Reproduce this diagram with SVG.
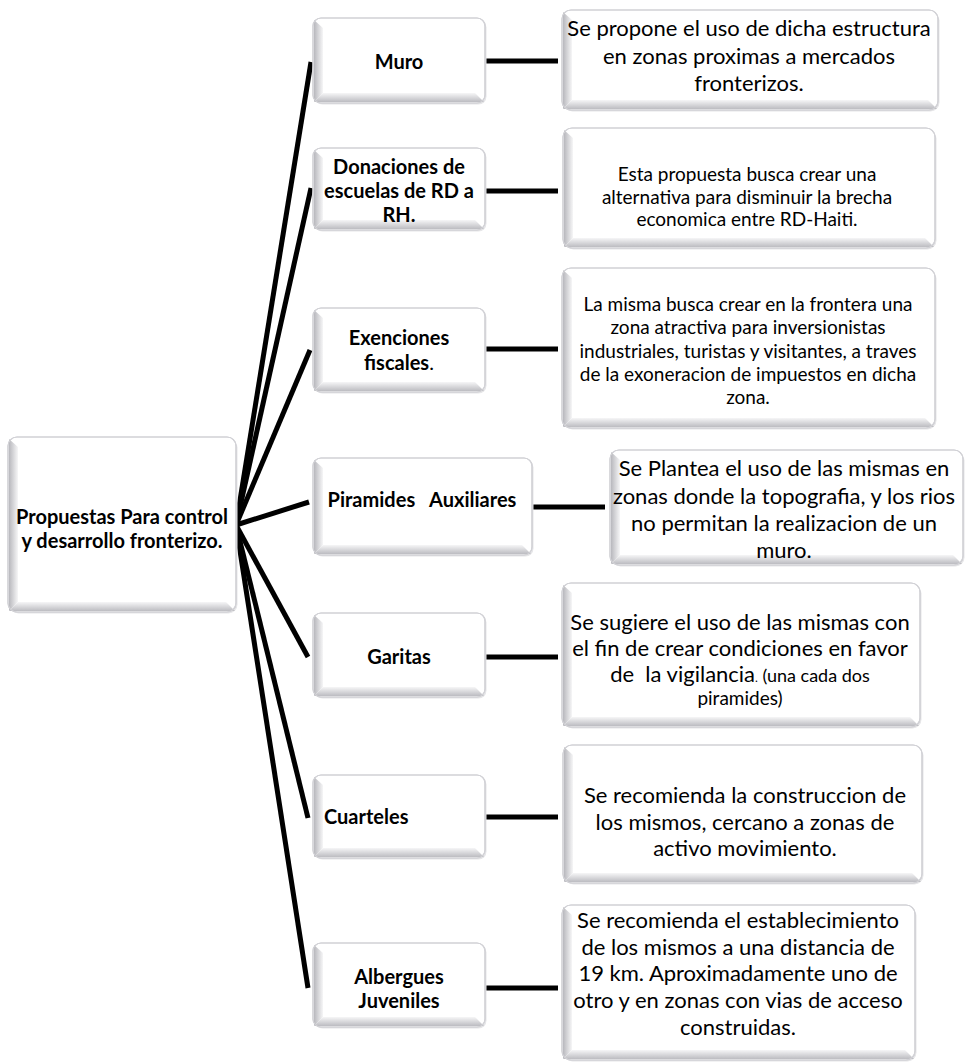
<svg xmlns="http://www.w3.org/2000/svg" width="966" height="1063" viewBox="0 0 966 1063">
<style>
.sh{fill:#e6e6e8}
.bx{fill:#ffffff;stroke:#cfcfd4;stroke-width:1.2}
.bl{fill:url(#gl)}
.bb{fill:url(#gb)}
.ol{fill:none;stroke:#d2d2d6;stroke-width:1.2}
.lbl{font-family:Lato,"Liberation Sans",sans-serif;font-weight:bold;font-size:20px;fill:#000;text-anchor:middle}
.big{font-family:Lato,"Liberation Sans",sans-serif;font-size:22px;fill:#000;text-anchor:middle}
.sm{font-family:Lato,"Liberation Sans",sans-serif;font-size:19px;fill:#000;text-anchor:middle}
.con line{stroke:#000;stroke-width:5;stroke-linecap:butt}
</style>
<defs>
<linearGradient id="gl" x1="0" y1="0" x2="1" y2="0"><stop offset="0" stop-color="#b8b8bd"/><stop offset="1" stop-color="#f6f6f7"/></linearGradient>
<linearGradient id="gb" x1="0" y1="0" x2="0" y2="1"><stop offset="0" stop-color="#f6f6f7"/><stop offset="1" stop-color="#bcbcc1"/></linearGradient>
</defs>
<rect width="966" height="1063" fill="#ffffff"/>
<g class="con" id="connectors">
<line x1="236" y1="525" x2="311" y2="62"/>
<line x1="236" y1="525" x2="311" y2="188"/>
<line x1="236" y1="525" x2="310" y2="350"/>
<line x1="236" y1="525" x2="309" y2="502"/>
<line x1="236" y1="525" x2="308" y2="657"/>
<line x1="236" y1="525" x2="308" y2="818"/>
<line x1="236" y1="525" x2="308" y2="988"/>
<line x1="485" y1="61" x2="558" y2="61"/>
<line x1="485" y1="191" x2="558" y2="191"/>
<line x1="485" y1="349" x2="558" y2="349"/>
<line x1="532" y1="507" x2="605" y2="507"/>
<line x1="485" y1="657" x2="558" y2="657"/>
<line x1="485" y1="817" x2="558" y2="817"/>
<line x1="485" y1="988" x2="558" y2="988"/>
</g>
<g id="root">
<rect class="sh" x="9.5" y="438.5" width="228" height="175" rx="9"/>
<rect class="bx" x="8" y="437" width="228" height="175" rx="9"/>
<path class="bl" d="M9 439 L18 447 L18 602 L9 611 Z"/>
<path class="bb" d="M9 611 L18 602 L226 602 L235 611 Z"/>
<rect class="ol" x="8" y="437" width="228" height="175" rx="9"/>
<text class="lbl" x="122" y="524">Propuestas Para control</text>
<text class="lbl" x="122" y="548">y desarrollo fronterizo.</text>
</g>
<g id="muro">
<rect class="sh" x="314.5" y="19.5" width="172" height="85" rx="8"/>
<rect class="bx" x="313" y="18" width="172" height="85" rx="8"/>
<path class="bl" d="M314 20 L323 28 L323 93 L314 102 Z"/>
<path class="bb" d="M314 102 L323 93 L475 93 L484 102 Z"/>
<rect class="ol" x="313" y="18" width="172" height="85" rx="8"/>
<text class="lbl" x="399" y="69">Muro</text>
</g>
<g id="donaciones">
<rect class="sh" x="314.5" y="149.5" width="172" height="82" rx="8"/>
<rect class="bx" x="313" y="148" width="172" height="82" rx="8"/>
<path class="bl" d="M314 150 L323 158 L323 220 L314 229 Z"/>
<path class="bb" d="M314 229 L323 220 L475 220 L484 229 Z"/>
<rect class="ol" x="313" y="148" width="172" height="82" rx="8"/>
<text class="lbl" x="399" y="174">Donaciones de</text>
<text class="lbl" x="399" y="198">escuelas de RD a</text>
<text class="lbl" x="399" y="222">RH.</text>
</g>
<g id="exenciones">
<rect class="sh" x="314.5" y="309.5" width="172" height="84" rx="8"/>
<rect class="bx" x="313" y="308" width="172" height="84" rx="8"/>
<path class="bl" d="M314 310 L323 318 L323 382 L314 391 Z"/>
<path class="bb" d="M314 391 L323 382 L475 382 L484 391 Z"/>
<rect class="ol" x="313" y="308" width="172" height="84" rx="8"/>
<text class="lbl" x="399" y="345">Exenciones</text>
<text class="lbl" x="399" y="370">fiscales<tspan font-weight="normal">.</tspan></text>
</g>
<g id="piramides">
<rect class="sh" x="314.5" y="459.5" width="219" height="97" rx="8"/>
<rect class="bx" x="313" y="458" width="219" height="97" rx="8"/>
<path class="bl" d="M314 460 L323 468 L323 545 L314 554 Z"/>
<path class="bb" d="M314 554 L323 545 L522 545 L531 554 Z"/>
<rect class="ol" x="313" y="458" width="219" height="97" rx="8"/>
<text class="lbl" x="422" y="507" style="white-space:pre">Piramides   Auxiliares</text>
</g>
<g id="garitas">
<rect class="sh" x="314.5" y="614.5" width="172" height="84" rx="8"/>
<rect class="bx" x="313" y="613" width="172" height="84" rx="8"/>
<path class="bl" d="M314 615 L323 623 L323 687 L314 696 Z"/>
<path class="bb" d="M314 696 L323 687 L475 687 L484 696 Z"/>
<rect class="ol" x="313" y="613" width="172" height="84" rx="8"/>
<text class="lbl" x="399" y="664">Garitas</text>
</g>
<g id="cuarteles">
<rect class="sh" x="314.5" y="776.5" width="172" height="83" rx="8"/>
<rect class="bx" x="313" y="775" width="172" height="83" rx="8"/>
<path class="bl" d="M314 777 L323 785 L323 848 L314 857 Z"/>
<path class="bb" d="M314 857 L323 848 L475 848 L484 857 Z"/>
<rect class="ol" x="313" y="775" width="172" height="83" rx="8"/>
<text class="lbl" x="324" y="824" style="text-anchor:start">Cuarteles</text>
</g>
<g id="albergues">
<rect class="sh" x="314.5" y="944.5" width="172" height="84" rx="8"/>
<rect class="bx" x="313" y="943" width="172" height="84" rx="8"/>
<path class="bl" d="M314 945 L323 953 L323 1017 L314 1026 Z"/>
<path class="bb" d="M314 1026 L323 1017 L475 1017 L484 1026 Z"/>
<rect class="ol" x="313" y="943" width="172" height="84" rx="8"/>
<text class="lbl" x="399" y="984">Albergues</text>
<text class="lbl" x="399" y="1008">Juveniles</text>
</g>
<g id="desc-muro">
<rect class="sh" x="563.5" y="11.5" width="376" height="100" rx="9"/>
<rect class="bx" x="562" y="10" width="376" height="100" rx="9"/>
<path class="bl" d="M563 12 L572 20 L572 100 L563 109 Z"/>
<path class="bb" d="M563 109 L572 100 L928 100 L937 109 Z"/>
<rect class="ol" x="562" y="10" width="376" height="100" rx="9"/>
<text class="big" x="749" y="36">Se propone el uso de dicha estructura</text>
<text class="big" x="749" y="64">en zonas proximas a mercados</text>
<text class="big" x="749" y="91">fronterizos.</text>
</g>
<g id="desc-donaciones">
<rect class="sh" x="564.5" y="129.5" width="372" height="120" rx="9"/>
<rect class="bx" x="563" y="128" width="372" height="120" rx="9"/>
<path class="bl" d="M564 130 L573 138 L573 238 L564 247 Z"/>
<path class="bb" d="M564 247 L573 238 L925 238 L934 247 Z"/>
<rect class="ol" x="563" y="128" width="372" height="120" rx="9"/>
<text class="sm" x="747" y="181">Esta propuesta busca crear una</text>
<text class="sm" x="747" y="204">alternativa para disminuir la brecha</text>
<text class="sm" x="747" y="226">economica entre RD-Haiti.</text>
</g>
<g id="desc-exenciones">
<rect class="sh" x="563.5" y="269.5" width="373" height="160" rx="9"/>
<rect class="bx" x="562" y="268" width="373" height="160" rx="9"/>
<path class="bl" d="M563 270 L572 278 L572 418 L563 427 Z"/>
<path class="bb" d="M563 427 L572 418 L925 418 L934 427 Z"/>
<rect class="ol" x="562" y="268" width="373" height="160" rx="9"/>
<text class="sm" x="748" y="311">La misma busca crear en la frontera una</text>
<text class="sm" x="748" y="334">zona atractiva para inversionistas</text>
<text class="sm" x="748" y="358">industriales, turistas y visitantes, a traves</text>
<text class="sm" x="748" y="381">de la exoneracion de impuestos en dicha</text>
<text class="sm" x="748" y="404">zona.</text>
</g>
<g id="desc-piramides">
<rect class="sh" x="611.5" y="451.5" width="353" height="115" rx="9"/>
<rect class="bx" x="610" y="450" width="353" height="115" rx="9"/>
<path class="bl" d="M611 452 L620 460 L620 555 L611 564 Z"/>
<path class="bb" d="M611 564 L620 555 L953 555 L962 564 Z"/>
<rect class="ol" x="610" y="450" width="353" height="115" rx="9"/>
<text class="big" x="784" y="476">Se Plantea el uso de las mismas en</text>
<text class="big" x="784" y="504">zonas donde la topografia, y los rios</text>
<text class="big" x="784" y="531">no permitan la realizacion de un</text>
<text class="big" x="784" y="558">muro.</text>
</g>
<g id="desc-garitas">
<rect class="sh" x="563.5" y="584.5" width="358" height="144" rx="9"/>
<rect class="bx" x="562" y="583" width="358" height="144" rx="9"/>
<path class="bl" d="M563 585 L572 593 L572 717 L563 726 Z"/>
<path class="bb" d="M563 726 L572 717 L910 717 L919 726 Z"/>
<rect class="ol" x="562" y="583" width="358" height="144" rx="9"/>
<text class="big" x="740" y="630">Se sugiere el uso de las mismas con</text>
<text class="big" x="740" y="656">el fin de crear condiciones en favor</text>
<text class="big" x="740" y="682" style="white-space:pre">de  la vigilancia<tspan font-size="12px">.</tspan><tspan font-size="18px"> (una cada dos</tspan></text>
<text class="sm" x="740" y="705" font-size="18px">piramides)</text>
</g>
<g id="desc-cuarteles">
<rect class="sh" x="564.5" y="746.5" width="359" height="138" rx="9"/>
<rect class="bx" x="563" y="745" width="359" height="138" rx="9"/>
<path class="bl" d="M564 747 L573 755 L573 873 L564 882 Z"/>
<path class="bb" d="M564 882 L573 873 L912 873 L921 882 Z"/>
<rect class="ol" x="563" y="745" width="359" height="138" rx="9"/>
<text class="big" x="745" y="803">Se recomienda la construccion de</text>
<text class="big" x="745" y="830">los mismos, cercano a zonas de</text>
<text class="big" x="745" y="856">activo movimiento.</text>
</g>
<g id="desc-albergues">
<rect class="sh" x="563.5" y="906.5" width="353" height="155" rx="9"/>
<rect class="bx" x="562" y="905" width="353" height="155" rx="9"/>
<path class="bl" d="M563 907 L572 915 L572 1050 L563 1059 Z"/>
<path class="bb" d="M563 1059 L572 1050 L905 1050 L914 1059 Z"/>
<rect class="ol" x="562" y="905" width="353" height="155" rx="9"/>
<text class="big" x="738" y="928">Se recomienda el establecimiento</text>
<text class="big" x="738" y="955">de los mismos a una distancia de</text>
<text class="big" x="738" y="981">19 km. Aproximadamente uno de</text>
<text class="big" x="738" y="1008">otro y en zonas con vias de acceso</text>
<text class="big" x="738" y="1035">construidas.</text>
</g>
</svg>
